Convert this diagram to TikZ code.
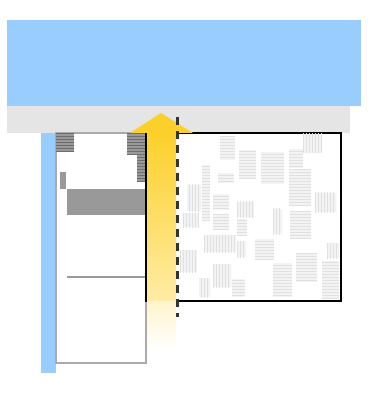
\documentclass[tikz,border=0pt]{standalone}
\usetikzlibrary{patterns}
\definecolor{skyb}{HTML}{99CCFF}
\definecolor{bandg}{HTML}{E5E5E5}
\definecolor{arrowy}{HTML}{FCD02A}
\definecolor{paley}{HTML}{FFECA5}
\definecolor{paler}{HTML}{FFF4CC}
\definecolor{midg}{HTML}{999999}
\definecolor{edgeg}{HTML}{AAAAAA}
\definecolor{hatchg}{HTML}{6E6E6E}
\definecolor{texg}{HTML}{F3F3F3}
\definecolor{texl}{HTML}{E0E0E0}
\definecolor{dashc}{HTML}{333333}
\tikzset{
  hblk/.style={fill=texg, postaction={pattern=horizontal lines, pattern color=texl}},
  vblk/.style={fill=texg, postaction={pattern=vertical lines, pattern color=texl}},
  dkblk/.style={fill=midg, postaction={pattern=horizontal lines, pattern color=hatchg}},
}
\begin{document}
\begin{tikzpicture}[x=1pt,y=-1pt]
\useasboundingbox (0,0) rectangle (374,419);
% top blue roof and grey band
\fill[skyb] (7,20) rectangle (361,106);
\fill[bandg] (7,106) rectangle (350,133);
% left blue strip
\fill[skyb] (41,133) rectangle (56,373);
% left panel
\draw[edgeg, line width=1.5, fill=white] (56,133) rectangle (146,363);
\path[dkblk] (56,133) rectangle (74,152);
\path[dkblk] (127,133) rectangle (146,155);
\path[dkblk] (137,155) rectangle (146,182);
\fill[midg] (60,172) rectangle (66,189);
\fill[midg] (67,189) rectangle (146,215);
\draw[midg, line width=2] (67,277) -- (146,277);
% right box
\draw[black, line width=1.3, fill=white] (146,133) rectangle (341,301);
% textured blocks
\path[hblk] (220,136) rectangle (235,160);
\path[hblk] (239,150) rectangle (256,179);
\path[hblk] (261,152) rectangle (284,184);
\path[hblk] (289,149) rectangle (303,168);
\path[hblk] (289,169) rectangle (311,206);
\path[vblk] (303,134) rectangle (322,153);
\path[hblk] (202,165) rectangle (210,220);
\path[hblk] (218,173) rectangle (234,183);
\path[vblk] (187,185) rectangle (201,211);
\path[hblk] (213,194) rectangle (229,210);
\path[vblk] (183,213) rectangle (199,227);
\path[hblk] (213,214) rectangle (229,229);
\path[vblk] (237,202) rectangle (254,217);
\path[hblk] (237,219) rectangle (247,235);
\path[vblk] (273,209) rectangle (282,234);
\path[hblk] (290,211) rectangle (311,238);
\path[vblk] (315,193) rectangle (336,212);
\path[vblk] (204,235) rectangle (236,252);
\path[vblk] (237,241) rectangle (246,257);
\path[hblk] (255,239) rectangle (274,260);
\path[vblk] (180,250) rectangle (197,272);
\path[vblk] (327,243) rectangle (339,258);
\path[hblk] (296,253) rectangle (317,282);
\path[hblk] (273,263) rectangle (292,297);
\path[vblk] (213,264) rectangle (231,287);
\path[vblk] (199,278) rectangle (210,297);
\path[hblk] (232,279) rectangle (245,297);
\path[hblk] (322,261) rectangle (339,298);
% yellow arrow
\shade[top color=arrowy, bottom color=paley] (147,133) rectangle (176,301);
\shade[top color=paler, bottom color=white] (147,301) rectangle (176,350);
\fill[arrowy] (130,133) -- (161,113) -- (193,133) -- cycle;
% dashed line
\draw[dashc, line width=2.4, dash pattern=on 8pt off 6pt] (177.5,117) -- (177.5,317);
\end{tikzpicture}
\end{document}
